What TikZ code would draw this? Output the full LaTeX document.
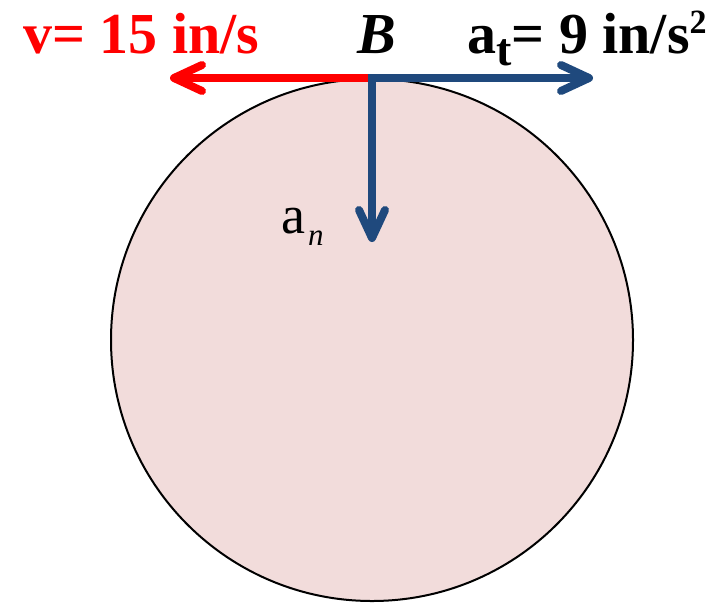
\documentclass[tikz,border=0pt]{standalone}
\usepackage{fontspec}
\setmainfont{Liberation Serif}
\usepackage{xcolor}
\usetikzlibrary{arrows.meta,positioning}
\definecolor{velred}{RGB}{255,0,0}
\definecolor{accblue}{RGB}{31,73,125}
\definecolor{diskpink}{RGB}{242,220,219}

\begin{document}
\begin{tikzpicture}[x=1pt, y=-1pt,
  >={Straight Barb[length=28pt, width=26pt, round]},
  disk/.style={circle, draw=black, line width=2pt, fill=diskpink, minimum size=522pt, inner sep=0pt},
  vec/.style={line width=8pt},
  big/.style={font=\fontsize{58}{60}\selectfont\bfseries, inner sep=0pt, anchor=base west}
]
\useasboundingbox (0,0) rectangle (722,603);
\node[disk] (wheel) at (372,340) {};
\coordinate (B) at (372,78);
\coordinate (vtip) at (170,78);
\coordinate (attip) at (593,78);
\coordinate (antip) at (372,242);
% velocity, then the two accelerations
\draw[vec, velred, ->] (B) -- (vtip);
\draw[vec, accblue, line join=miter, <->] (antip) -- (B) -- (attip);
\node[big, text=velred] (vlab) at (23,53) {v= 15 in/s};
\node[big] (blab) at (357,53) {\itshape B};
\node[big] (atlab) at (467,53) {a\raisebox{-12pt}{\fontsize{46}{46}\selectfont t}= 9 in/s\raisebox{20pt}{\fontsize{34}{34}\selectfont 2}};
\node[inner sep=0pt, anchor=base west, font=\fontsize{54}{56}\selectfont] (anlab) at (281,233) {a\kern3pt\raisebox{-12pt}{\fontsize{31}{31}\selectfont\itshape n}};
\end{tikzpicture}
\end{document}
